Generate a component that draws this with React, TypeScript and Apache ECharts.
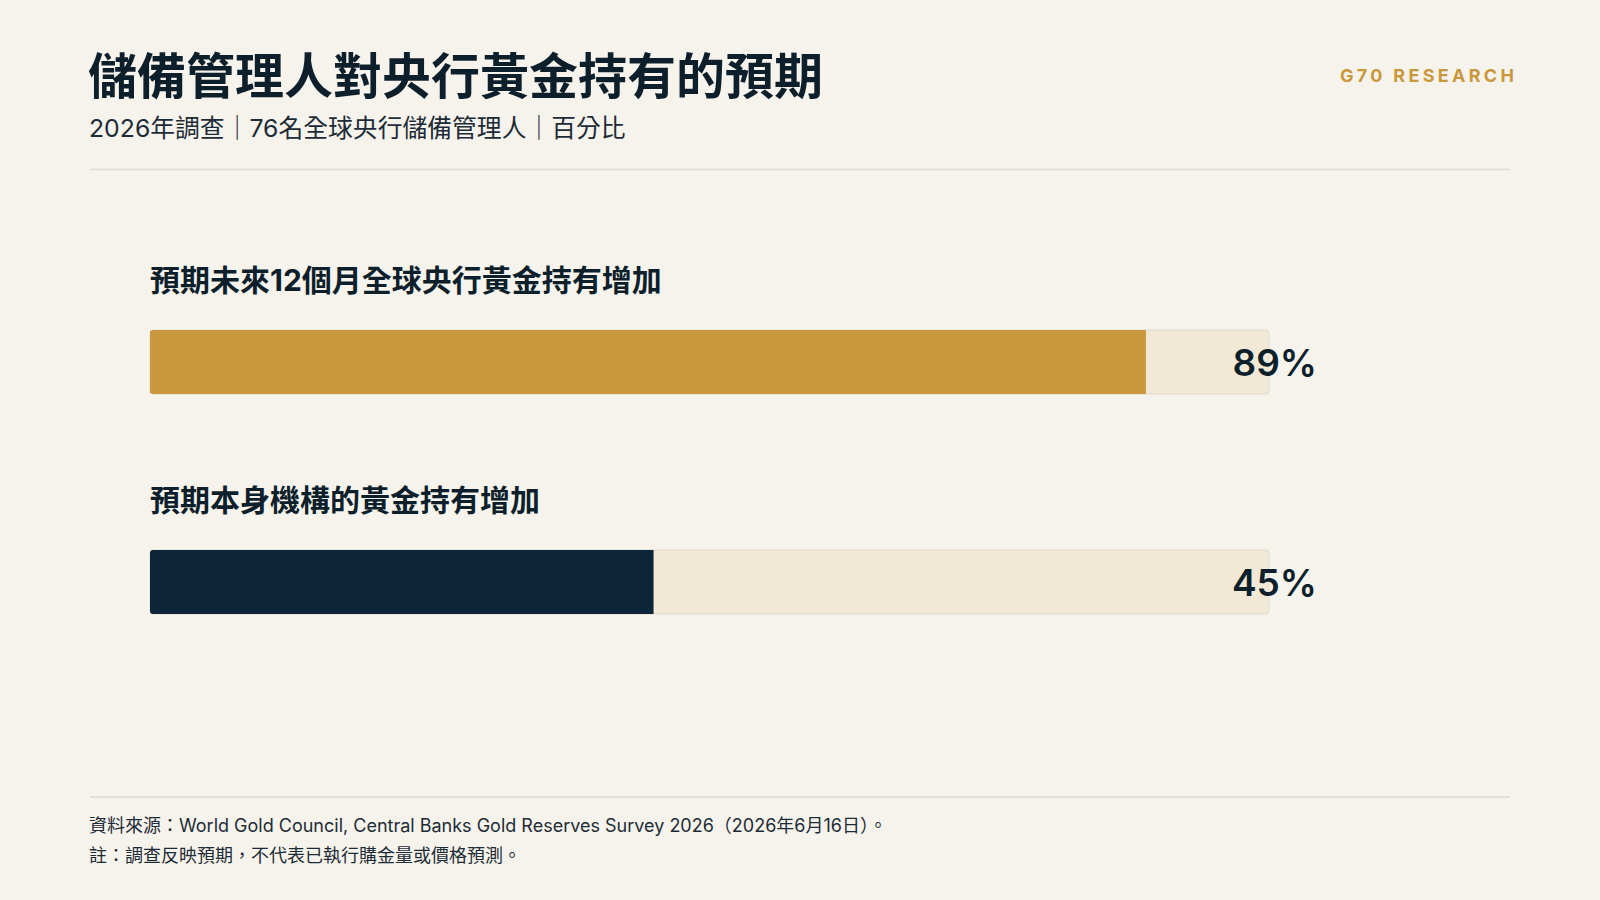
import React, { useEffect, useRef } from 'react';
import * as echarts from 'echarts';

const categories = ['預期未來12個月全球央行黃金持有增加', '預期本身機構的黃金持有增加'];
const values = [89, 45];
const barColors = ['#C9983D', '#0C2538'];
const valueLabels = values.map((v) => `${v}%`);
const titleText = '儲備管理人對央行黃金持有的預期';
const subtitleText = '2026年調查｜76名全球央行儲備管理人｜百分比';
const brandText = 'G70 RESEARCH';
const footnotes = [
  '資料來源：World Gold Council, Central Banks Gold Reserves Survey 2026（2026年6月16日）。',
  '註：調查反映預期，不代表已執行購金量或價格預測。',
];

const BG = '#F6F3EC';
const INK = '#0E1F2C';
const GOLD = '#C9983D';
const RULE = '#E4DFD6';
const CJK = "Inter, 'Noto Sans CJK TC', sans-serif";

export default function App() {
  const ref = useRef<HTMLDivElement>(null);
  useEffect(() => {
    const el = ref.current!;
    const chart = echarts.init(el, null, { renderer: 'svg' });
    const option = {
      animation: false,
      backgroundColor: BG,
      grid: { left: 150, right: 331, top: 252, bottom: 208 },
      xAxis: { type: 'value', min: 0, max: 100, show: false },
      yAxis: [
        { type: 'category', data: categories, inverse: true, show: false },
        {
          type: 'category',
          data: valueLabels,
          inverse: true,
          position: 'right',
          z: 10,
          axisLine: { show: false },
          axisTick: { show: false },
          splitLine: { show: false },
          axisLabel: {
            align: 'right',
            margin: 48,
            fontSize: 37,
            fontWeight: 600,
            fontFamily: 'Inter, sans-serif',
            color: INK,
          },
        },
      ],
      series: [
        {
          type: 'bar',
          yAxisIndex: 0,
          barWidth: 64,
          z: 2,
          data: values.map((v, i) => ({ value: v, itemStyle: { color: barColors[i] } })),
          itemStyle: { borderRadius: [3, 0, 0, 3] },
          showBackground: true,
          backgroundStyle: {
            color: '#F1E8D6',
            borderColor: '#DFDAD0',
            borderWidth: 1,
            borderRadius: 3,
          },
          label: {
            show: true,
            position: [0, -50],
            align: 'left',
            verticalAlign: 'middle',
            formatter: (p: any) => p.name,
            fontSize: 30,
            fontWeight: 'bold',
            fontFamily: CJK,
            color: INK,
          },
        },
      ],
      graphic: [
        {
          type: 'text',
          x: 88,
          y: 76,
          style: {
            text: titleText,
            fontSize: 49,
            fontWeight: 'bold',
            fontFamily: CJK,
            fill: INK,
            verticalAlign: 'middle',
          },
        },
        {
          type: 'text',
          x: 89,
          y: 128,
          style: {
            text: subtitleText,
            fontSize: 24.8,
            fontFamily: CJK,
            fill: '#1D2B36',
            verticalAlign: 'middle',
          },
        },
        {
          type: 'text',
          x: 1340,
          y: 75,
          style: {
            text: brandText,
            fontSize: 18,
            fontWeight: 'bold',
            fontFamily: 'Inter, sans-serif',
            fill: GOLD,
            verticalAlign: 'middle',
          },
        },
        {
          type: 'line',
          shape: { x1: 90, y1: 169.5, x2: 1510, y2: 169.5 },
          style: { stroke: RULE, lineWidth: 2 },
        },
        {
          type: 'line',
          shape: { x1: 90, y1: 797, x2: 1510, y2: 797 },
          style: { stroke: RULE, lineWidth: 2 },
        },
        {
          type: 'text',
          x: 89,
          y: 825,
          style: {
            text: footnotes[0],
            fontSize: 18,
            fontFamily: CJK,
            fill: '#1D2B36',
            verticalAlign: 'middle',
          },
        },
        {
          type: 'text',
          x: 89,
          y: 855,
          style: {
            text: footnotes[1],
            fontSize: 18,
            fontFamily: CJK,
            fill: '#1D2B36',
            verticalAlign: 'middle',
          },
        },
      ],
    };
    chart.setOption(option as any);
    el.querySelectorAll('text').forEach((t) => {
      if (t.textContent === brandText) t.setAttribute('letter-spacing', '3.3px');
    });
    return () => chart.dispose();
  }, []);
  return (
    <div
      ref={ref}
      style={{ position: 'fixed', left: 0, top: 0, width: 1600, height: 900 }}
    />
  );
}
